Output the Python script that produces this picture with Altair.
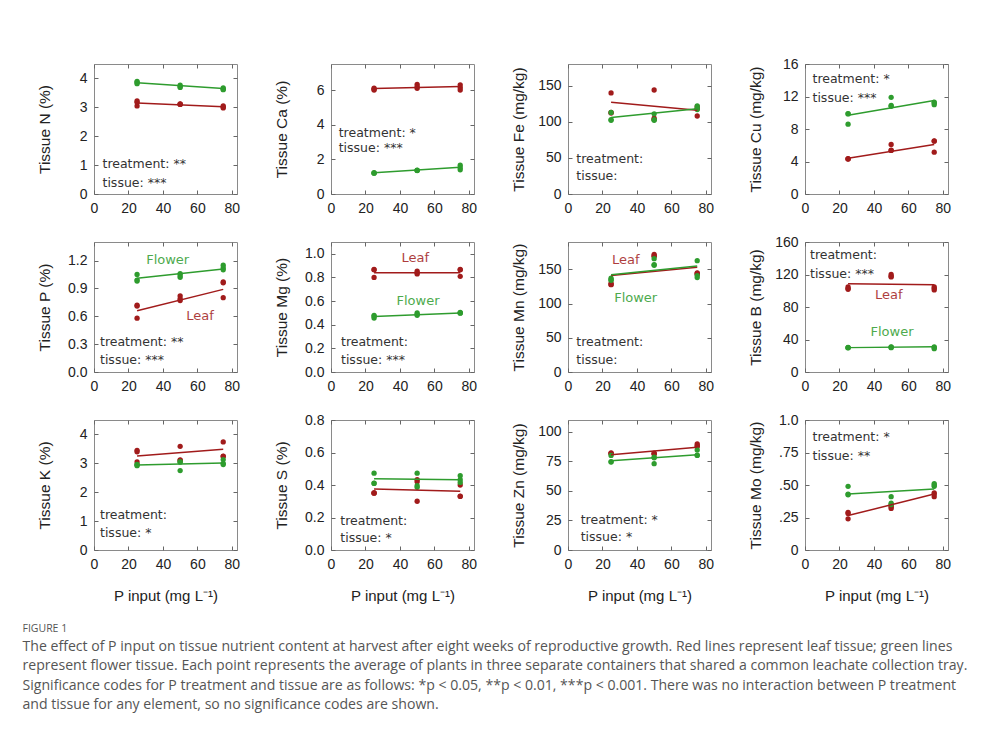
import altair as alt
import pandas as pd

# ---------------- data ----------------
P_INPUT = [25, 50, 75]          # P input levels, mg/L
REPS = 3                        # containers per level
FIT_X = [25, 75]                # fitted line end points (x)
X_TICKS = [0, 20, 40, 60, 80]
X_DOMAIN = [0, 83]
TISSUES = ["Leaf", "Flower"]
COLORS = ["#a11b1b", "#2e9c2e"]

N_LEAF = [3.22, 3.05, 3.18, 3.12, 3.10, 3.11, 3.05, 2.98, 3.01]
N_FLOWER = [3.90, 3.86, 3.82, 3.77, 3.72, 3.69, 3.67, 3.63, 3.61]
N_LEAF_FIT = [3.15, 3.02]
N_FLOWER_FIT = [3.85, 3.65]

CA_LEAF = [6.10, 6.00, 6.05, 6.33, 6.10, 6.20, 6.30, 6.00, 6.15]
CA_FLOWER = [1.21, 1.23, 1.20, 1.36, 1.38, 1.35, 1.66, 1.40, 1.52]
CA_LEAF_FIT = [6.08, 6.20]
CA_FLOWER_FIT = [1.22, 1.55]

FE_LEAF = [140, 112, 113, 144, 103, 105, 108, 118, 121]
FE_FLOWER = [113, 102, 103, 111, 102, 103, 122, 117, 119]
FE_LEAF_FIT = [127, 116]
FE_FLOWER_FIT = [106, 118]

CU_LEAF = [4.33, 4.35, 4.30, 6.10, 5.36, 5.40, 6.55, 5.15, 6.50]
CU_FLOWER = [9.90, 8.60, 9.85, 11.90, 10.90, 10.80, 11.30, 11.00, 11.20]
CU_LEAF_FIT = [4.4, 6.1]
CU_FLOWER_FIT = [9.7, 11.5]

P_LEAF = [0.72, 0.58, 0.71, 0.82, 0.77, 0.79, 0.97, 0.80, 0.96]
P_FLOWER = [1.05, 0.98, 0.99, 1.06, 1.04, 1.02, 1.15, 1.12, 1.10]
P_LEAF_FIT = [0.66, 0.89]
P_FLOWER_FIT = [1.01, 1.11]

MG_LEAF = [0.868, 0.80, 0.865, 0.854, 0.83, 0.84, 0.868, 0.81, 0.865]
MG_FLOWER = [0.48, 0.456, 0.47, 0.50, 0.48, 0.49, 0.50, 0.505, 0.498]
MG_LEAF_FIT = [0.84, 0.84]
MG_FLOWER_FIT = [0.47, 0.50]

MN_LEAF = [127.6, 128, 130, 172, 169, 170, 145, 143, 144]
MN_FLOWER = [137, 134, 135, 165.6, 156, 157, 162.7, 141, 138]
MN_LEAF_FIT = [141, 153]
MN_FLOWER_FIT = [142, 155]

B_LEAF = [104.6, 101.7, 103, 120, 117, 118, 104.6, 101, 103]
B_FLOWER = [30, 30.2, 29.8, 31, 30, 30.5, 31, 28.7, 30]
B_LEAF_FIT = [108.5, 107.5]
B_FLOWER_FIT = [30, 31]

K_LEAF = [3.45, 3.05, 3.40, 3.59, 3.12, 3.10, 3.74, 3.24, 3.25]
K_FLOWER = [2.96, 2.92, 2.95, 3.04, 2.75, 3.06, 3.13, 2.96, 3.00]
K_LEAF_FIT = [3.25, 3.49]
K_FLOWER_FIT = [2.94, 3.01]

S_LEAF = [0.351, 0.352, 0.350, 0.433, 0.30, 0.42, 0.40, 0.33, 0.332]
S_FLOWER = [0.473, 0.412, 0.41, 0.473, 0.396, 0.386, 0.457, 0.433, 0.416]
S_LEAF_FIT = [0.375, 0.362]
S_FLOWER_FIT = [0.438, 0.432]

ZN_LEAF = [82.2, 81.5, 81.8, 82, 81.5, 81.2, 89.7, 88.3, 87.5]
ZN_FLOWER = [80, 74.4, 74.8, 78.5, 73, 78, 84.7, 80, 80.3]
ZN_LEAF_FIT = [80.5, 86.9]
ZN_FLOWER_FIT = [75.5, 80.5]

MO_LEAF = [0.29, 0.24, 0.28, 0.34, 0.32, 0.33, 0.44, 0.41, 0.43]
MO_FLOWER = [0.49, 0.425, 0.43, 0.41, 0.36, 0.35, 0.51, 0.49, 0.50]
MO_LEAF_FIT = [0.265, 0.43]
MO_FLOWER_FIT = [0.43, 0.47]

CAPTION_TITLE = "FIGURE 1"
CAPTION_LINES = [
    "The effect of P input on tissue nutrient content at harvest after eight weeks of reproductive growth. Red lines represent leaf tissue; green lines",
    "represent flower tissue. Each point represents the average of plants in three separate containers that shared a common leachate collection tray.",
    "Significance codes for P treatment and tissue are as follows: *p < 0.05, **p < 0.01, ***p < 0.001. There was no interaction between P treatment",
    "and tissue for any element, so no significance codes are shown.",
]
X_TITLE = "P input (mg L\u207b\u00b9)"

# ---------------- panel definitions ----------------
MO_LABELS = "datum.value == 0 ? '0' : datum.value == 1 ? '1.0' : replace(format(datum.value, '.2f'), '0.', '.')"

PANELS = [
    dict(t="Tissue N (%)", d=(N_LEAF, N_FLOWER, N_LEAF_FIT, N_FLOWER_FIT), dom=[0, 4.5], ticks=[0, 1, 2, 3, 4], fmt="d",
         sig=("treatment: **", "tissue: ***"), sp=(8.5, 99.7, 119)),
    dict(t="Tissue Ca (%)", d=(CA_LEAF, CA_FLOWER, CA_LEAF_FIT, CA_FLOWER_FIT), dom=[0, 7.5], ticks=[0, 2, 4, 6], fmt="d",
         sig=("treatment: *", "tissue: ***"), sp=(7.7, 68.7, 84.3)),
    dict(t="Tissue Fe (mg/kg)", d=(FE_LEAF, FE_FLOWER, FE_LEAF_FIT, FE_FLOWER_FIT), dom=[0, 180], ticks=[0, 50, 100, 150], fmt="d",
         sig=("treatment:", "tissue:"), sp=(8.3, 95.3, 112)),
    dict(t="Tissue Cu (mg/kg)", d=(CU_LEAF, CU_FLOWER, CU_LEAF_FIT, CU_FLOWER_FIT), dom=[0, 16], ticks=[0, 4, 8, 12, 16], fmt="d",
         sig=("treatment: *", "tissue: ***"), sp=(7.5, 14.7, 33.7)),
    dict(t="Tissue P (%)", d=(P_LEAF, P_FLOWER, P_LEAF_FIT, P_FLOWER_FIT), dom=[0, 1.4], ticks=[0, 0.3, 0.6, 0.9, 1.2], fmt=".1f",
         sig=("treatment: **", "tissue: ***"), sp=(6, 99.7, 118),
         lab=[("Flower", 1, 73.7, 18), ("Leaf", 0, 106, 73.7)]),
    dict(t="Tissue Mg (%)", d=(MG_LEAF, MG_FLOWER, MG_LEAF_FIT, MG_FLOWER_FIT), dom=[0, 1.1], ticks=[0, 0.2, 0.4, 0.6, 0.8, 1.0], fmt=".1f",
         sig=("treatment:", "tissue: ***"), sp=(10, 99.7, 118),
         lab=[("Leaf", 0, 84.3, 16.3), ("Flower", 1, 87, 59)]),
    dict(t="Tissue Mn (mg/kg)", d=(MN_LEAF, MN_FLOWER, MN_LEAF_FIT, MN_FLOWER_FIT), dom=[0, 190], ticks=[0, 50, 100, 150], fmt="d",
         sig=("treatment:", "tissue:"), sp=(8.3, 99.7, 118),
         lab=[("Leaf", 0, 57.7, 18), ("Flower", 1, 67.7, 56.3)]),
    dict(t="Tissue B (mg/kg)", d=(B_LEAF, B_FLOWER, B_LEAF_FIT, B_FLOWER_FIT), dom=[0, 160], ticks=[0, 40, 80, 120, 160], fmt="d",
         sig=("treatment:", "tissue: ***"), sp=(5, 13, 32),
         lab=[("Leaf", 0, 83.7, 53), ("Flower", 1, 87, 89.7)]),
    dict(t="Tissue K (%)", d=(K_LEAF, K_FLOWER, K_LEAF_FIT, K_FLOWER_FIT), dom=[0, 4.5], ticks=[0, 1, 2, 3, 4], fmt="d",
         sig=("treatment:", "tissue: *"), sp=(6, 95, 113.3)),
    dict(t="Tissue S (%)", d=(S_LEAF, S_FLOWER, S_LEAF_FIT, S_FLOWER_FIT), dom=[0, 0.8], ticks=[0, 0.2, 0.4, 0.6, 0.8], fmt=".1f",
         sig=("treatment:", "tissue: *"), sp=(9.3, 100.7, 118.3)),
    dict(t="Tissue Zn (mg/kg)", d=(ZN_LEAF, ZN_FLOWER, ZN_LEAF_FIT, ZN_FLOWER_FIT), dom=[0, 110], ticks=[0, 25, 50, 75, 100], fmt="d",
         sig=("treatment: *", "tissue: *"), sp=(12.7, 100, 116.7)),
    dict(t="Tissue Mo (mg/kg)", d=(MO_LEAF, MO_FLOWER, MO_LEAF_FIT, MO_FLOWER_FIT), dom=[0, 1.0], ticks=[0, 0.25, 0.5, 0.75, 1.0], fmt=".2f",
         sig=("treatment: *", "tissue: **"), sp=(7.5, 16.7, 36), expr=MO_LABELS),
]

# ---------------- layout / style ----------------
W, H = 143, 130
TICK = 4
LABEL_FONT = "Liberation Sans"
NOTE_FONT = "DejaVu Sans"
ONE = pd.DataFrame({"k": [0]})
XS = [x for x in P_INPUT for _ in range(REPS)]


def panel(p, row):
    leaf, flower, leaf_fit, flower_fit = p["d"]
    pts = pd.DataFrame({"P": XS * 2, "v": list(leaf) + list(flower),
                        "tissue": [TISSUES[0]] * len(leaf) + [TISSUES[1]] * len(flower)})
    fit = pd.DataFrame({"P": FIT_X * 2, "v": list(leaf_fit) + list(flower_fit),
                        "tissue": [TISSUES[0]] * 2 + [TISSUES[1]] * 2})
    xs = alt.Scale(domain=X_DOMAIN, nice=False, zero=False)
    ys = alt.Scale(domain=p["dom"], nice=False, zero=False)
    col = alt.Color("tissue:N", scale=alt.Scale(domain=TISSUES, range=COLORS), legend=None)

    yaxis_kw = dict(values=p["ticks"], orient="left", offset=-TICK, tickSize=TICK, domain=False, grid=False,
                    labelPadding=7, format=p["fmt"], minExtent=40, maxExtent=40, titlePadding=6,
                    labelFlush=False, titleFontSize=15.5)
    if "expr" in p:
        yaxis_kw["labelExpr"] = p["expr"]
    xaxis = alt.Axis(values=X_TICKS, orient="bottom", offset=-TICK, tickSize=TICK, domain=False, grid=False,
                     labelPadding=7, format="d", labelFlush=False, minExtent=25, maxExtent=25, titlePadding=17,
                     titleFontSize=15)
    if row == 2:
        xenc = alt.X("P:Q", scale=xs, axis=xaxis, title=X_TITLE)
    else:
        xenc = alt.X("P:Q", scale=xs, axis=xaxis, title=None)
    yenc = alt.Y("v:Q", scale=ys, axis=alt.Axis(**yaxis_kw), title=p["t"])

    lines = alt.Chart(fit).mark_line(strokeWidth=1.5).encode(x=xenc, y=yenc, color=col, detail="tissue:N")
    points = alt.Chart(pts).mark_circle(size=28, opacity=1).encode(
        x=alt.X("P:Q", scale=xs, axis=None), y=alt.Y("v:Q", scale=ys, axis=None), color=col)
    mirror = alt.Chart(fit).mark_point(opacity=0, size=1).encode(
        x=alt.X("P:Q", scale=xs, title=None,
                axis=alt.Axis(values=X_TICKS, orient="top", offset=-TICK, tickSize=TICK, labels=False,
                              domain=False, grid=False, minExtent=0, maxExtent=0)),
        y=alt.Y("v:Q", scale=ys, title=None,
                axis=alt.Axis(values=p["ticks"], orient="right", offset=-TICK, tickSize=TICK, labels=False,
                              domain=False, grid=False, minExtent=0, maxExtent=0)))
    layers = [mirror, points, lines]
    sx, sy1, sy2 = p["sp"]
    for s, yy in zip(p["sig"], (sy1, sy2)):
        layers.append(alt.Chart(ONE).mark_text(text=s, align="left", baseline="middle", font=NOTE_FONT,
                                               fontSize=12.5, color="#333333")
                      .encode(x=alt.value(sx), y=alt.value(yy)))
    for s, ti, lx, ly in p.get("lab", []):
        layers.append(alt.Chart(ONE).mark_text(text=s, align="center", baseline="middle", font=NOTE_FONT,
                                               fontSize=13, color=COLORS[ti], opacity=0.85)
                      .encode(x=alt.value(lx), y=alt.value(ly)))
    return alt.layer(*layers).resolve_axis(x="independent", y="independent").properties(width=W, height=H)


charts = [panel(p, i // 4) for i, p in enumerate(PANELS)]

chart = alt.concat(*charts, columns=4, spacing={"row": 18, "column": 32}, align="each").properties(
    padding={"left": 22, "top": 56, "right": 5, "bottom": 5},
    background="white",
    title=alt.TitleParams(text=CAPTION_TITLE, subtitle=CAPTION_LINES, orient="bottom", anchor="start",
                          frame="bounds", offset=20, dx=-14, font="Open Sans", fontSize=10.5,
                          fontWeight="normal", color="#555555", subtitleFont="Open Sans",
                          subtitleFontSize=14.1, subtitleColor="#555555", subtitleLineHeight=19.3,
                          subtitlePadding=6),
).configure_view(stroke="#8a8a8a", strokeWidth=1).configure_axis(
    labelFont=LABEL_FONT, labelFontSize=14, labelColor="#222222",
    titleFont=LABEL_FONT, titleFontSize=14, titleFontWeight="normal", titleColor="#222222",
    tickColor="#666666", tickWidth=1,
)

chart.save("out.html", embed_options={"renderer": "svg", "actions": False})
